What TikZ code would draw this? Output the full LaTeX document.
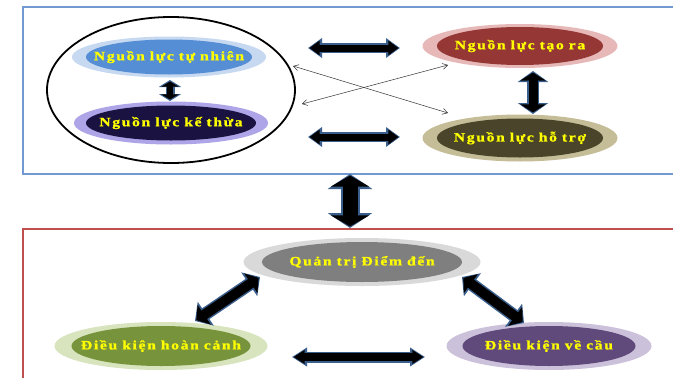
\documentclass[tikz,border=0pt]{standalone}
\usepackage{fontspec}
\setmainfont{Liberation Serif}[BoldFont={Liberation Serif Bold},BoldFeatures={FakeBold=1.2},LetterSpace=13,FakeStretch=1.22,WordSpace=0.9]
\usetikzlibrary{arrows.meta,shapes.geometric}
\definecolor{arrowblue}{HTML}{3A5F8C}
\definecolor{topbox}{HTML}{7299D2}
\definecolor{botbox}{HTML}{C0504D}
\definecolor{labelyellow}{HTML}{FFFF00}
\definecolor{tnO}{HTML}{C6D9F1}\definecolor{tnI}{HTML}{558ED5}
\definecolor{ktO}{HTML}{ADA5E8}\definecolor{ktI}{HTML}{1A1240}
\definecolor{trO}{HTML}{E6B9B8}\definecolor{trI}{HTML}{953735}
\definecolor{htO}{HTML}{C4BD97}\definecolor{htI}{HTML}{4A452A}
\definecolor{qtO}{HTML}{D9D9D9}\definecolor{qtI}{HTML}{7F7F7F}
\definecolor{hcO}{HTML}{D7E4BD}\definecolor{hcI}{HTML}{77933C}
\definecolor{vcO}{HTML}{CCC1DA}\definecolor{vcI}{HTML}{604A7B}
\tikzset{
  ring/.style={ellipse, inner sep=0pt, draw=none},
  core/.style={ellipse, inner sep=0pt, draw=none},
  lbl/.style={font=\bfseries\fontsize{12.8}{14}\selectfont, text=labelyellow, inner sep=0pt},
  thinarrow/.style={draw=black!80, line width=0.5pt, {Straight Barb[length=5pt,width=6pt]}-{Straight Barb[length=5pt,width=6pt]}},
}
% #1 start, #2 end, #3 shaft width, #4 head width, #5 head length,
% #6 inner shaft width, #7 inner head width, #8 inner head length
\newcommand\dblarrow[8]{%
  \draw[line width=#3pt, arrowblue, {Triangle[width=#4pt,length=#5pt]}-{Triangle[width=#4pt,length=#5pt]}] (#1) -- (#2);
  \draw[line width=#6pt, black, shorten <=1.6pt, shorten >=1.6pt, {Triangle[width=#7pt,length=#8pt]}-{Triangle[width=#7pt,length=#8pt]}] (#1) -- (#2);
}
\begin{document}
\begin{tikzpicture}[x=1pt,y=-1pt]
\clip (0,0) rectangle (673,378);
\fill[white] (0,0) rectangle (673,378);
% boxes
\draw[topbox, line width=2pt] (700,7) -- (23,7) -- (23,174) -- (700,174);
\draw[botbox, line width=2pt] (700,229) -- (23,229) -- (23,400);
% big circle
\node[ellipse, draw=black, line width=1.8pt, minimum width=248pt, minimum height=146pt, inner sep=0pt] (grp) at (171,90) {};
% Nguon luc tu nhien
\node[ring, fill=tnO, minimum width=194pt, minimum height=41pt] (tn) at (169,57) {};
\node[core, fill=tnI, minimum width=166pt, minimum height=35pt] (tnc) at (tn) {};
\node[lbl] at (tn) {Nguồn lực tự nhiên};
% Nguon luc ke thua
\node[ring, fill=ktO, minimum width=194pt, minimum height=43pt] (kt) at (171,123) {};
\node[core, fill=ktI, minimum width=170pt, minimum height=35pt] (ktc) at (kt) {};
\node[lbl] at (kt) {Nguồn lực kế thừa};
% Nguon luc tao ra
\node[ring, fill=trO, minimum width=195pt, minimum height=44pt] (tr) at (520,46) {};
\node[core, fill=trI, minimum width=166pt, minimum height=38pt] (trc) at (tr) {};
\node[lbl] at (tr) {Nguồn lực tạo ra};
% Nguon luc ho tro
\node[ring, fill=htO, minimum width=195pt, minimum height=47pt] (ht) at (520,138) {};
\node[core, fill=htI, minimum width=166pt, minimum height=39pt] (htc) at (ht) {};
\node[lbl] at (ht) {Nguồn lực hỗ trợ};
% Quan tri diem den
\node[ring, fill=qtO, minimum width=237pt, minimum height=48pt] (qt) at (362,262) {};
\node[core, fill=qtI, minimum width=200pt, minimum height=40pt] (qtc) at (qt) {};
\node[lbl] at (qt) {Quản trị Điểm đến};
% Dieu kien hoan canh
\node[ring, fill=hcO, minimum width=213pt, minimum height=48pt] (hc) at (161,346) {};
\node[core, fill=hcI, minimum width=179pt, minimum height=40pt] (hcc) at (hc) {};
\node[lbl] at (hc) {Điều kiện hoàn cảnh};
% Dieu kien ve cau
\node[ring, fill=vcO, minimum width=205pt, minimum height=48pt] (vc) at (549,346) {};
\node[core, fill=vcI, minimum width=173pt, minimum height=40pt] (vcc) at (vc) {};
\node[lbl] at (vc) {Điều kiện về cầu};
% arrow end points
\coordinate (a1s) at (308,48);  \coordinate (a1e) at (400,48);
\coordinate (a2s) at (308,137); \coordinate (a2e) at (400,137);
\coordinate (a3s) at (170,80);  \coordinate (a3e) at (170,101);
\coordinate (a4s) at (533,71);  \coordinate (a4e) at (533,114);
\coordinate (a5s) at (350,174); \coordinate (a5e) at (350,228);
\coordinate (a6s) at (195,321); \coordinate (a6e) at (260,277);
\coordinate (a7s) at (462,277); \coordinate (a7e) at (524,323);
\coordinate (a8s) at (292,357); \coordinate (a8e) at (425,357);
\coordinate (t1s) at (293,66);  \coordinate (t1e) at (448,113);
\coordinate (t2s) at (302,104); \coordinate (t2e) at (448,65);
% thick double arrows
\dblarrow{a1s}{a1e}{10}{19}{14}{7}{14}{10}
\dblarrow{a2s}{a2e}{10}{19}{14}{7}{14}{10}
\dblarrow{a3s}{a3e}{9}{22}{7}{6}{17}{5}
\dblarrow{a4s}{a4e}{12}{30}{11}{9}{25}{8}
\dblarrow{a5s}{a5e}{19}{44}{15}{15}{38}{11}
\dblarrow{a6s}{a6e}{13}{28}{13}{10}{23}{9.5}
\dblarrow{a7s}{a7e}{13}{28}{13}{10}{23}{9.5}
\dblarrow{a8s}{a8e}{11}{18}{15}{8}{13}{11}
% thin crossing arrows
\draw[thinarrow] (t1s) -- (t1e);
\draw[thinarrow] (t2s) -- (t2e);
\end{tikzpicture}
\end{document}
